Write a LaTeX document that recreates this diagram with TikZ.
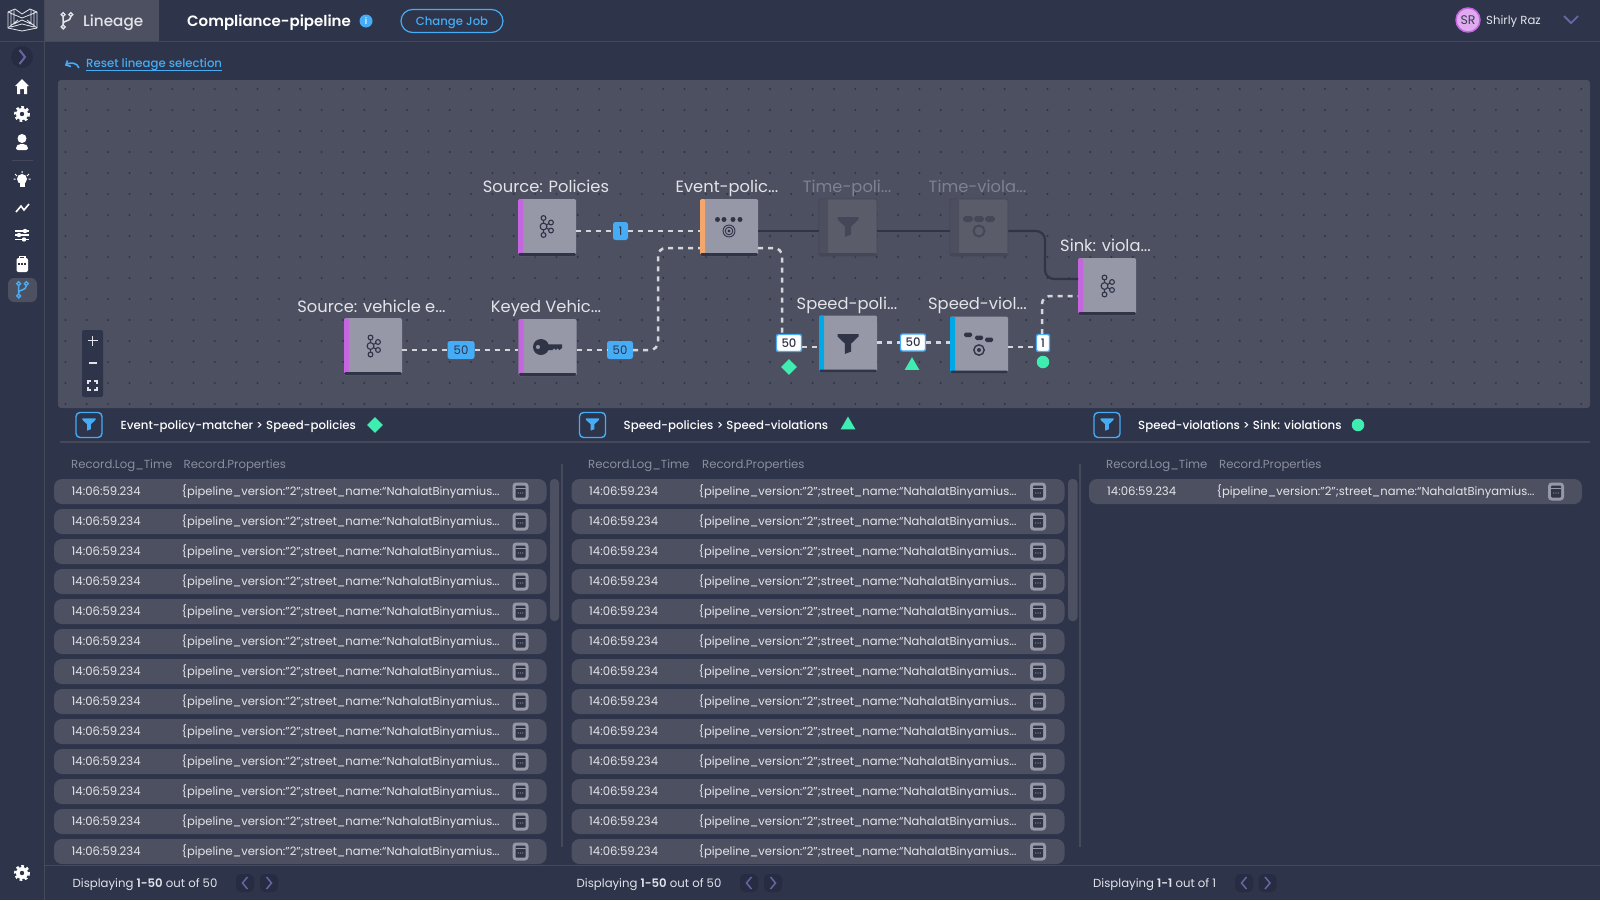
\documentclass[tikz,border=0pt]{standalone}
\usepackage{fontspec}
\setmainfont{Poppins}
\newfontfamily\medfont{Poppins Medium}
\newfontfamily\semifont{Poppins SemiBold}
\usetikzlibrary{calc}
\usetikzlibrary{shapes.geometric}

\definecolor{pagebg}{HTML}{2E344A}
\definecolor{panelgray}{HTML}{4D5060}
\definecolor{ruleline}{HTML}{454959}
\definecolor{boxgray}{HTML}{9698A8}
\definecolor{boxink}{HTML}{2F3447}
\definecolor{dimgray}{HTML}{5A5C6A}
\definecolor{diminner}{HTML}{444757}
\definecolor{accent}{HTML}{45ACF5}
\definecolor{markgreen}{HTML}{3FEDB0}
\definecolor{sourcepurple}{HTML}{C566E0}
\definecolor{matchorange}{HTML}{F5A66B}
\definecolor{activeblue}{HTML}{00A8E8}
\definecolor{softtext}{HTML}{E3E4E9}
\definecolor{dashgray}{HTML}{D5D6DC}
\definecolor{mutedtext}{HTML}{8B8E9C}
\definecolor{violet}{HTML}{6568A0}
\definecolor{navbtn}{HTML}{272C42}

\tikzset{
  sized/.style={font=\fontsize{#1}{#1}\selectfont, text height=#1*0.85pt, text depth=#1*0.15pt, inner sep=0pt},
  flowbox/.style={rectangle, minimum width=58, minimum height=57, inner sep=0pt, fill=boxgray, rounded corners=1.5,
    path picture={
      \fill[#1] (path picture bounding box.south west) rectangle ([xshift=5pt]path picture bounding box.north west);
      \fill[boxink] (path picture bounding box.south west) rectangle ([yshift=3pt]path picture bounding box.south east);
    }},
  dimbox/.style={rectangle, minimum width=58, minimum height=57, inner sep=0pt, fill=dimgray, draw=diminner, line width=0.8, rounded corners=1.5,
    path picture={
      \fill[diminner!60!dimgray] (path picture bounding box.south west) rectangle ([xshift=9pt]path picture bounding box.north west);
      \fill[diminner] (path picture bounding box.south west) rectangle ([yshift=3pt]path picture bounding box.south east);
    }},
  boxlabel/.style={sized=16.3, text=softtext},
  dimlabel/.style={sized=16.3, text=mutedtext!80!panelgray},
  flowline/.style={draw=dashgray, line width=2.5, dash pattern=on 5pt off 5pt},
  idleline/.style={draw=boxink, line width=2.2},
  countbadge/.style={sized=11.7, fill=accent, text=boxink, rounded corners=2.5, minimum height=18, align=center},
  liftbadge/.style={sized=11.7, font=\medfont\fontsize{11.7}{11.7}\selectfont, fill=white, draw=accent, line width=1.4, text=boxink, rounded corners=2, minimum height=17, align=center},
  recordrow/.style={rectangle, fill=panelgray, rounded corners=8, minimum height=25, inner sep=0pt},
  recordtext/.style={sized=11.7, text=softtext, anchor=west},
  proptext/.style={sized=11.55, text=softtext, anchor=west},
  headtext/.style={sized=11.7, text=mutedtext, anchor=west},
  titletext/.style={sized=11.75, font=\medfont\fontsize{11.75}{11.75}\selectfont, text=white, anchor=west},
  filterbtn/.style={rectangle, draw=accent, line width=1.4, rounded corners=4, minimum width=26, minimum height=25, inner sep=0pt},
  footertext/.style={sized=11.7, text=softtext, anchor=west},
  navbutton/.style={rectangle, fill=navbtn, rounded corners=5, minimum width=18, minimum height=18, inner sep=0pt},
  kafkaicon/.pic={
    \draw[boxink, line width=1.1] (-3.5,-8) -- (-3.5,8) (-3.5,0) -- (4,-4) (-3.5,0) -- (4,4);
    \foreach \cx/\cy/\cr in {-3.5/-8.5/2.4, -3.5/8.5/2.4, -3.5/0/3.4, 4/-4/2.4, 4/4/2.4}
      \filldraw[fill=boxgray, draw=boxink, line width=1.1] (\cx,\cy) circle (\cr);
  },
  funnelicon/.pic={
    \fill (-10.5,-10) -- (10.5,-10) -- (10.5,-7.5) -- (3.2,-0.5) -- (3.2,7.5) -- (-3.2,10) -- (-3.2,-0.5) -- (-10.5,-7.5) -- cycle;
  },
  eventicon/.pic={
    \fill (-11.5,-7.5) circle (2.5) (-5,-7.5) circle (2.5) (4,-7.5) circle (2.5) (11,-7.5) circle (2.5);
    \draw[line width=0.9] (0,4) circle (6) (0,4) circle (3.8);
    \fill (0,4) circle (1.7);
  },
  matchicon/.pic={
    \fill[rounded corners=1.5] (-15,-12.5) rectangle (-7,-8) (-4,-9.5) rectangle (4,-5) (6,-7.5) rectangle (14,-3);
    \draw[line width=1.4] (0,5) circle (5.2);
    \fill (0,5) circle (2);
  },
  keyicon/.pic={
    \fill[even odd rule] (-7,0) circle (8) (-10,0) circle (2.2);
    \fill (-1,-2.6) -- (14,-2.6) -- (14,1) -- (11.5,3) -- (9.5,1.2) -- (8,3) -- (6,1.2) -- (4.5,3) -- (-1,3) -- cycle;
  },
  branchicon/.pic={
    \draw[line width=1.5] (-4.5,-5) -- (-4.5,4.5) (4.5,-5) .. controls (4.5,1) and (-4.5,-1) .. (-4.5,3);
    \draw[line width=1.4] (-4.5,-7.5) circle (2.3) (4.5,-7.5) circle (2.3) (-4.5,7) circle (2.3);
  },
  gearicon/.pic={
    \fill (0,0) circle (6);
    \draw[line width=2.4, dash pattern=on 2.6pt off 2.6pt] (0,0) circle (6.8);
    \fill[pagebg] (0,0) circle (2.2);
  },
  jsonicon/.pic={
    \fill[boxgray, rounded corners=3.5] (-8,-9) rectangle (8,9);
    \fill[boxink, rounded corners=1] (-5,-6) rectangle (5,6);
    \draw[boxgray, line width=0.7] (-5,-3) -- (5,-3);
    \fill[boxgray] (-2.2,1.5) circle (0.6) (2.2,1.5) circle (0.6) (0,1.5) circle (0.6);
  },
}

\begin{document}
\begin{tikzpicture}[x=1pt,y=-1pt]
\useasboundingbox (0,0) rectangle (1600,900);
\fill[pagebg] (0,0) rectangle (1600,900);

% Draw the top bar and the side bar
\fill[panelgray] (45,0) rectangle (159,41);
\draw[ruleline, line width=1.2] (0,41.5) -- (1600,41.5);
\draw[ruleline, line width=1.2] (44.5,0) -- (44.5,900);
\draw[ruleline, line width=1.2] (44.5,865.5) -- (1600,865.5);

% Logo
\draw[softtext, line width=0.8] (8,12) -- (8,28) -- (22,31) -- (37,28) -- (37,12) -- (30,9) -- (22,14) -- (15,9) -- cycle;
\draw[softtext, line width=0.8] (11,11) -- (11,27) -- (22,24) -- (34,27) -- (34,11) (14,10) -- (14,24) -- (22,20) -- (31,24) -- (31,10) (8,12) -- (22,18) -- (37,12) (8,28) -- (18,20) (37,28) -- (27,20);

\pic[softtext, scale=0.85] at (67,21) {branchicon};
\node[sized=15.2, font=\medfont\fontsize{15.2}{15.2}\selectfont, text=softtext, anchor=west] (tabTitle) at (83,21) {Lineage};
\node[sized=15, font=\semifont\fontsize{15}{15}\selectfont, text=white, anchor=west] (jobTitle) at (187,21) {Compliance-pipeline};
\node[circle, fill=accent, text=white, minimum size=13, inner sep=0pt, font=\medfont\fontsize{9}{9}\selectfont] (jobInfo) at (366,21) {i};
\node[rectangle, draw=accent, line width=1.2, rounded corners=11.5, minimum width=102, minimum height=23, sized=11.7, font=\medfont\fontsize{11.7}{11.7}\selectfont, text=accent] (changeJob) at (452,21) {Change Job};

\node[circle, fill=sourcepurple!55!white, draw=sourcepurple, line width=1.5, minimum size=24, inner sep=0pt, text=boxink!80!violet, font=\fontsize{12.5}{12.5}\selectfont] (userBadge) at (1468,20) {SR};
\node[sized=11.7, text=softtext, anchor=west] (userName) at (1486,20) {Shirly Raz};
\draw[violet, line width=1.8] (1564,16) -- (1571,23) -- (1578,16);

% Side bar icons
\fill[navbtn] (22,57) circle (11);
\draw[violet, line width=2] (19.5,50) -- (25,57) -- (19.5,64);
\fill[white] (22,79) -- (29,86) -- (27,86) -- (27,94) -- (24,94) -- (24,89) -- (20,89) -- (20,94) -- (17,94) -- (17,86) -- (15,86) -- cycle;
\pic[white] at (22,114) {gearicon};
\fill[white] (22,138.5) circle (4.5);
\fill[white, rounded corners=2] (16,150) -- (16,146) -- (19,144) -- (25,144) -- (28,146) -- (28,150) -- cycle;
\draw[ruleline, line width=1.2] (12,160.5) -- (33,160.5);
\fill[white] (22,179) circle (5);
\fill[white] (19.5,183) rectangle (24.5,187);
\draw[white, line width=1] (15,174) -- (17,176) (29,174) -- (27,176) (22,171) -- (22,173) (13.5,179) -- (15.5,179) (30.5,179) -- (28.5,179);
\draw[white, line width=1.6] (16,212) -- (21,206) -- (24,210) -- (29,204);
\draw[white, line width=1.8] (15,231) -- (29,231) (15,235) -- (29,235) (15,239.5) -- (29,239.5);
\fill[white] (25,231) circle (2.2) (19,235) circle (2.2) (24,239.5) circle (2.2);
\fill[white, rounded corners=2] (16.5,258) rectangle (28,272);
\draw[white, line width=1.2] (19.5,258) -- (19.5,256.5) -- (25,256.5) -- (25,258);
\draw[pagebg, line width=1.2, dash pattern=on 2pt off 1.4pt] (17.5,264) -- (27.5,264);
\fill[panelgray, rounded corners=6] (8,278) rectangle (37,302);
\pic[accent, scale=0.85] at (22.5,290) {branchicon};
\pic[white] at (22,873) {gearicon};

% Reset link
\draw[accent, line width=1.6] (79,68) .. controls (77,63) and (72,62) .. (67,64);
\draw[accent, line width=1.6] (67.5,60.5) -- (66,65) -- (71,66.5);
\node[sized=11.7, font=\medfont\fontsize{11.7}{11.7}\selectfont, text=accent, anchor=west] (resetLink) at (86,63.5) {Reset lineage selection};
\draw[accent, line width=0.8] ([yshift=-1pt]resetLink.south west) -- ([yshift=-1pt]resetLink.south east);

% Draw the canvas and its dots
\fill[panelgray, rounded corners=3] (58,80) rectangle (1590,408);
\foreach \k in {0,...,71}
  \foreach \m in {0,...,15}
    \fill[boxink] ({65.4+21.35*\k},{89+21*\m}) circle (1.1);

% Zoom buttons
\fill[pagebg, rounded corners=2] (82,330) rectangle (103,397);
\draw[softtext, line width=1.5] (87.5,340.5) -- (97.5,340.5) (92.5,335.5) -- (92.5,345.5) (88.5,363) -- (96.5,363);
\draw[softtext, line width=1.2] (88,384) -- (88,381) -- (91,381) (94,381) -- (97,381) -- (97,384) (97,387) -- (97,390) -- (94,390) (91,390) -- (88,390) -- (88,387);

% Define the boxes
\node[flowbox=sourcepurple] (policies) at (547,227.5) {};
\node[flowbox=matchorange] (eventMatcher) at (729,227.5) {};
\node[dimbox] (timePoli) at (848,227.5) {};
\node[dimbox] (timeViol) at (979,227.5) {};
\node[flowbox=sourcepurple] (sink) at (1107,286.5) {};
\node[flowbox=activeblue] (speedPoli) at (848,344) {};
\node[flowbox=activeblue] (speedViol) at (979,345) {};
\node[flowbox=sourcepurple] (keyed) at (547.5,347.5) {};
\node[flowbox=sourcepurple] (vehicle) at (373,346.5) {};

% Box labels
\node[boxlabel] (policiesLabel) at (546,186.6) {Source: Policies};
\node[boxlabel] (eventLabel) at (727,186.6) {Event-polic...};
\node[dimlabel] (timePoliLabel) at (847,186.6) {Time-poli...};
\node[dimlabel] (timeViolLabel) at (977.5,186.6) {Time-viola...};
\node[boxlabel] (sinkLabel) at (1105.5,245.6) {Sink: viola...};
\node[boxlabel] (speedPoliLabel) at (847,303.6) {Speed-poli...};
\node[boxlabel] (speedViolLabel) at (977.5,303.6) {Speed-viol...};
\node[boxlabel] (keyedLabel) at (546,306.6) {Keyed Vehic...};
\node[boxlabel] (vehicleLabel) at (371.5,306.6) {Source: vehicle e...};

% Box icons
\pic at (547,226.5) {kafkaicon};
\pic at (374,346) {kafkaicon};
\pic at (1108,286) {kafkaicon};
\pic[boxink] at (729,227) {eventicon};
\pic[boxink] at (848,344) {funnelicon};
\pic[boxink] at (979,345) {matchicon};
\pic[boxink] at (548,347) {keyicon};
\pic[diminner] at (848,227) {funnelicon};
\fill[diminner, rounded corners=3] (963,216) rectangle (973,222) (974,216) rectangle (984,222) (985,216) rectangle (995,222);
\draw[diminner, line width=2] (979,231) circle (5.5);

% Define the badges
\node[countbadge, minimum width=15] (badgePol) at (620.5,231) {1};
\node[countbadge, minimum width=27] (badgeVeh) at (461,350) {50};
\node[countbadge, minimum width=26] (badgeKey) at (620,350) {50};
\node[liftbadge, minimum width=25] (badgeSpeedA) at (789,343) {50};
\node[liftbadge, minimum width=25] (badgeSpeedB) at (913,342.5) {50};
\node[liftbadge, minimum width=13] (badgeSink) at (1043,343) {1};

% Define the ports
\coordinate (eventLowL) at (700,248);
\coordinate (eventLowR) at (758,248);
\coordinate (riseKey) at (658,300);
\coordinate (speedDrop) at (782,334);
\coordinate (speedPoliIn) at (819,347);
\coordinate (speedBadgeOut) at (802,347);
\coordinate (sinkUpper) at (1078,279);
\coordinate (idleBend) at (1045,279);
\coordinate (sinkLower) at (1078,296);
\coordinate (sinkRise) at (1042,334);
\coordinate (violOut) at (1008,347);
\coordinate (sinkBadgeIn) at (1036,347);

% Draw the flow lines
\draw[flowline] (policies.east |- badgePol.west) -- (badgePol.west);
\draw[flowline] (badgePol.east) -- (eventMatcher.west |- badgePol.east);
\draw[flowline] (vehicle.east |- badgeVeh.west) -- (badgeVeh.west);
\draw[flowline] (badgeVeh.east) -- (keyed.west |- badgeVeh.east);
\draw[flowline] (keyed.east |- badgeKey.west) -- (badgeKey.west);
\draw[flowline, rounded corners=8] (badgeKey.east) -| (riseKey) |- (eventLowL);
\draw[flowline, rounded corners=8] (eventLowR) -| (speedDrop);
\draw[flowline] (speedBadgeOut) -- (speedPoliIn);
\draw[flowline] (speedPoli.east |- badgeSpeedB.west) -- (badgeSpeedB.west);
\draw[flowline] (badgeSpeedB.east) -- (speedViol.west |- badgeSpeedB.east);
\draw[flowline] (violOut) -- (sinkBadgeIn);
\draw[flowline, rounded corners=8] (sinkRise) |- (sinkLower);

% Draw the idle lines
\draw[idleline] (eventMatcher.east |- badgePol) -- (timePoli.west |- badgePol);
\draw[idleline] (timePoli.east |- badgePol) -- (timeViol.west |- badgePol);
\draw[idleline, rounded corners=9] (timeViol.east |- badgePol) -| (idleBend) -- (sinkUpper);

% Draw the markers
\node[diamond, fill=markgreen, minimum width=16, minimum height=16, inner sep=0pt] (markDiamond) at (789,367) {};
\node[regular polygon, regular polygon sides=3, fill=markgreen, minimum size=17, inner sep=0pt] (markTriangle) at (912,365.7) {};
\node[circle, fill=markgreen, minimum size=12.5, inner sep=0pt] (markCircle) at (1043,362) {};

% Draw the column headers
\foreach \col/\btnx/\titlex/\coltitle/\timex/\propx in {
  A/89/120.5/Event-policy-matcher > Speed-policies/71/183.5,
  B/592.5/623.5/Speed-policies > Speed-violations/588/702,
  C/1107/1138/Speed-violations > Sink: violations/1106/1219} {
  \node[filterbtn] (filter\col) at (\btnx,425) {};
  \pic[accent, scale=0.62] at (\btnx,424.5) {funnelicon};
  \node[titletext] (title\col) at (\titlex,425) {\coltitle};
  \node[headtext] (headTime\col) at (\timex,464) {Record.Log\_Time};
  \node[headtext] (headProp\col) at (\propx,464) {Record.Properties};
}
\node[diamond, fill=markgreen, minimum width=16, minimum height=16, inner sep=0pt] (titleDiamond) at (375,425) {};
\node[regular polygon, regular polygon sides=3, fill=markgreen, minimum size=17, inner sep=0pt] (titleTriangle) at (848,425) {};
\node[circle, fill=markgreen, minimum size=12.5, inner sep=0pt] (titleCircle) at (1358,425) {};
\draw[ruleline, line width=1.2] (60,442) -- (1590,442);

% Draw the record rows
\foreach \col/\rowx/\rowwd/\timex/\propx/\iconx/\lastrow in {
  A/300.25/492.5/71.5/181.5/520.5/12,
  B/818/493/589/698.5/1038/12,
  C/1335.5/493/1107/1216.5/1556/0} {
  \foreach \i in {0,...,\lastrow} {
    \node[recordrow, minimum width=\rowwd] (row\col\i) at (\rowx,{491.5+30*\i}) {};
    \node[recordtext] (time\col\i) at (\timex,{491.5+30*\i}) {14:06:59.234};
    \node[proptext] (prop\col\i) at (\propx,{491.5+30*\i}) {\{pipeline\_version:"2";street\_name:“NahalatBinyamius...};
    \pic at (\iconx,{491.5+30*\i}) {jsonicon};
  }
}

% Scroll bars and dividers
\fill[panelgray, rounded corners=4] (550,479) rectangle (559,621);
\fill[panelgray, rounded corners=4] (1068,479) rectangle (1077.5,621);
\draw[ruleline, line width=1.2] (562,464) -- (562,847);
\draw[ruleline, line width=1.2] (1080,464) -- (1080,847);

% Draw the footers
\foreach \col/\textx/\btnl/\btnr/\shown/\total in {
  A/72.5/245/269/1-50/50,
  B/576.5/749/773/1-50/50,
  C/1093/1244/1267.5/1-1/1} {
  \node[footertext] (foot\col) at (\textx,883) {Displaying {\semifont \shown} out of \total};
  \node[navbutton] (prev\col) at (\btnl,883) {};
  \node[navbutton] (next\col) at (\btnr,883) {};
  \draw[violet, line width=1.5] ([xshift=2.5pt,yshift=6pt]prev\col.center) -- ([xshift=-2.5pt]prev\col.center) -- ([xshift=2.5pt,yshift=-6pt]prev\col.center);
  \draw[violet, line width=1.5] ([xshift=-2.5pt,yshift=6pt]next\col.center) -- ([xshift=2.5pt]next\col.center) -- ([xshift=-2.5pt,yshift=-6pt]next\col.center);
}

\end{tikzpicture}
\end{document}
